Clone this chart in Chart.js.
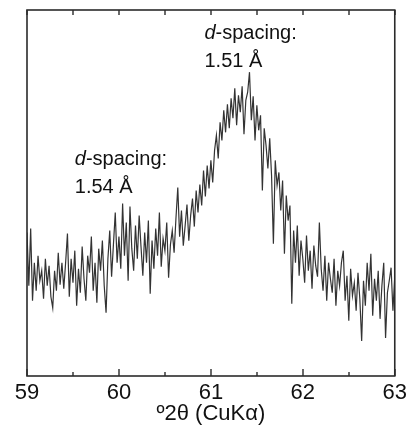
<!DOCTYPE html>
<html><head><meta charset="utf-8">
<script src="https://cdn.jsdelivr.net/npm/chart.js@4"></script>
<style>html,body{margin:0;padding:0;background:#fff}</style>
</head><body>
<canvas id="c" width="411" height="430"></canvas>
<script>
// Scan angles (°2θ)
const angles = [
59.00,59.02,59.04,59.06,59.08,59.10,59.12,59.14,59.16,59.18,
59.20,59.22,59.24,59.26,59.28,59.30,59.32,59.34,59.36,59.38,
59.40,59.42,59.44,59.46,59.48,59.50,59.52,59.54,59.56,59.58,
59.60,59.62,59.64,59.66,59.68,59.70,59.72,59.74,59.76,59.78,
59.80,59.82,59.84,59.86,59.88,59.90,59.92,59.94,59.96,59.98,
60.00,60.02,60.04,60.06,60.08,60.10,60.12,60.14,60.16,60.18,
60.20,60.22,60.24,60.26,60.28,60.30,60.32,60.34,60.36,60.38,
60.40,60.42,60.44,60.46,60.48,60.50,60.52,60.54,60.56,60.58,
60.60,60.62,60.64,60.66,60.68,60.70,60.72,60.74,60.76,60.78,
60.80,60.82,60.84,60.86,60.88,60.90,60.92,60.94,60.96,60.98,
61.00,61.02,61.04,61.06,61.08,61.10,61.12,61.14,61.16,61.18,
61.20,61.22,61.24,61.26,61.28,61.30,61.32,61.34,61.36,61.38,
61.40,61.42,61.44,61.46,61.48,61.50,61.52,61.54,61.56,61.58,
61.60,61.62,61.64,61.66,61.68,61.70,61.72,61.74,61.76,61.78,
61.80,61.82,61.84,61.86,61.88,61.90,61.92,61.94,61.96,61.98,
62.00,62.02,62.04,62.06,62.08,62.10,62.12,62.14,62.16,62.18,
62.20,62.22,62.24,62.26,62.28,62.30,62.32,62.34,62.36,62.38,
62.40,62.42,62.44,62.46,62.48,62.50,62.52,62.54,62.56,62.58,
62.60,62.62,62.64,62.66,62.68,62.70,62.72,62.74,62.76,62.78,
62.80,62.82,62.84,62.86,62.88,62.90,62.92,62.94,62.96,62.98,
63.00
];
// Intensity (arbitrary units)
const intensity = [
143,90,147,75,113,85,120,95,105,77,
117,90,110,79,68,105,85,123,91,113,
87,113,142,79,117,93,125,70,107,83,
129,97,75,120,103,139,85,113,73,127,
105,135,90,63,117,145,99,131,163,113,
139,107,172,120,153,95,169,127,105,150,
117,160,129,100,143,113,155,82,135,107,
147,120,163,109,137,125,153,98,131,145,
123,157,188,139,165,130,150,171,135,160,
177,149,185,163,191,170,205,179,210,187,
215,193,225,240,217,253,235,265,243,271,
247,277,257,287,250,280,263,289,241,275,
283,303,255,279,235,270,245,260,185,247,
230,207,237,200,132,215,190,203,165,195,
122,180,155,170,72,145,113,150,100,135,
117,93,140,105,125,87,130,110,99,153,
107,85,120,75,113,97,83,117,70,105,
90,113,125,75,100,55,107,80,93,65,
103,77,35,95,70,113,85,122,60,97,
75,105,57,90,113,38,83,95,108,65,
100
];
const xTickLabels = ['59','60','61','62','63'];
const dSpacingLabels = ['1.51 Å','1.54 Å'];
const xTitle = 'º2θ (CuKα)';

const FONT = '"Liberation Sans", Arial, Helvetica, sans-serif';

const framePlugin = {
  id: 'frame',
  afterDraw(chart) {
    const {ctx, chartArea: {left, right, top, bottom}, scales: {x}} = chart;
    ctx.save();
    ctx.strokeStyle = '#2b2b2b';
    ctx.lineWidth = 1.6;
    ctx.strokeRect(left, top, right - left, bottom - top);
    ctx.lineWidth = 1.4;
    x.ticks.forEach(t => {
      const px = Math.round(x.getPixelForValue(t.value));
      const major = Math.abs(t.value - Math.round(t.value)) < 1e-6;
      ctx.beginPath();
      ctx.moveTo(px, bottom); ctx.lineTo(px, bottom - (major ? 7 : 4));
      ctx.moveTo(px, top); ctx.lineTo(px, top + 5);
      ctx.stroke();
    });
    ctx.restore();
  }
};

const labelPlugin = {
  id: 'dlabels',
  afterDatasetsDraw(chart, args, opts) {
    const {ctx, scales: {x, y}} = chart;
    ctx.save();
    ctx.fillStyle = '#111';
    ctx.textAlign = 'left';
    ctx.textBaseline = 'alphabetic';
    opts.items.forEach(it => {
      const px = x.getPixelForValue(it.x);
      const py = y.getPixelForValue(it.y);
      ctx.font = 'italic 20px ' + FONT;
      ctx.fillText('d', px, py);
      const w = ctx.measureText('d').width;
      ctx.font = '20px ' + FONT;
      ctx.fillText('-spacing:', px + w, py);
      ctx.fillText(it.text, px, py + 28);
    });
    ctx.restore();
  }
};

new Chart(document.getElementById('c'), {
  type: 'line',
  data: {
    datasets: [{
      data: angles.map((a, i) => ({x: a, y: intensity[i]})),
      borderColor: '#333333',
      borderWidth: 1.2,
      pointRadius: 0,
      tension: 0,
      fill: false
    }]
  },
  options: {
    responsive: false,
    animation: false,
    devicePixelRatio: 1,
    layout: {padding: {top: 10, right: 15, left: 0, bottom: 0}},
    plugins: {
      legend: {display: false},
      tooltip: {enabled: false},
      dlabels: {items: [
        {x: 60.93, y: 336, text: dSpacingLabels[0]},
        {x: 59.52, y: 210, text: dSpacingLabels[1]}
      ]}
    },
    scales: {
      x: {
        type: 'linear', position: 'bottom', min: 59, max: 63,
        grid: {display: false, drawTicks: false},
        border: {display: false},
        ticks: {
          stepSize: 0.5, autoSkip: false, maxRotation: 0, padding: 4,
          color: '#111', font: {size: 22, family: FONT},
          callback: v => {
            const idx = xTickLabels.indexOf(String(v));
            return idx >= 0 ? xTickLabels[idx] : '';
          }
        },
        title: {display: true, text: xTitle, color: '#111',
          font: {size: 22, family: FONT}, padding: {top: 0, bottom: 3}},
        afterFit: s => { s.height = 54; }
      },
      y: {
        min: 0, max: 365,
        grid: {display: false, drawTicks: false},
        border: {display: false},
        ticks: {display: false},
        afterFit: s => { s.width = 27; }
      }
    }
  },
  plugins: [framePlugin, labelPlugin]
});
</script>
</body></html>
